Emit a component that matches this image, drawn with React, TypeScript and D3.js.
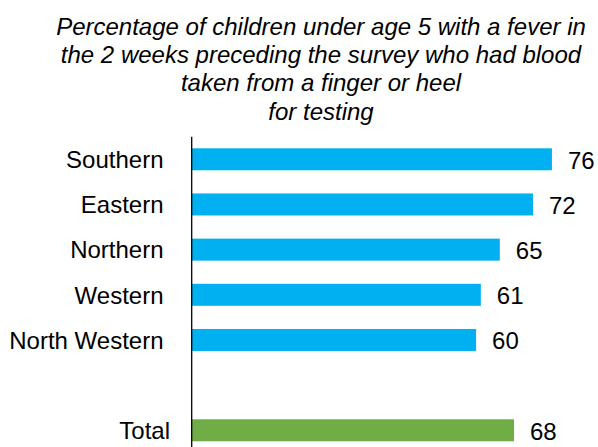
import React from "react";
import * as d3 from "d3";

const categories = ["Southern", "Eastern", "Northern", "Western", "North Western", "", "Total"];
const values = [76, 72, 65, 61, 60, null, 68];
const titleLines = [
  "Percentage of children under age 5 with a fever in",
  "the 2 weeks preceding the survey who had blood",
  "taken from a finger or heel",
  "for testing",
];

const W = 598;
const H = 447;
const FONT = "'Liberation Sans', Arial, Helvetica, sans-serif";

export default function App() {
  const x = d3.scaleLinear().domain([0, 100]).range([191.7, 191.7 + 474]);
  const y = d3
    .scaleBand<string>()
    .domain(categories.map((c, i) => String(i)))
    .range([136.7, 136.7 + 7 * 45.17])
    .paddingInner(0.513)
    .paddingOuter(0.2565);

  return (
    <svg
      width={W}
      height={H}
      style={{ position: "absolute", left: 0, top: 0, background: "#fff" }}
      fontFamily={FONT}
    >
      <rect width={W} height={H} fill="#fff" />
      {titleLines.map((t, i) => (
        <text
          key={i}
          x={321}
          y={35 + i * 28.2}
          textAnchor="middle"
          fontSize={24}
          fontStyle="italic"
          fill="#000"
        >
          {t}
        </text>
      ))}
      {categories.map((c, i) => {
        const v = values[i];
        if (v == null) return null;
        const key = String(i);
        const by = y(key)!;
        const bh = y.bandwidth();
        const cy = by + bh / 2;
        const isTotal = c === "Total";
        return (
          <g key={key}>
            <rect
              x={x(0)}
              y={by}
              width={x(v) - x(0)}
              height={bh}
              fill={isTotal ? "#70AD47" : "#00B0F0"}
            />
            <text
              x={isTotal ? 170 : 163.5}
              y={cy + 8.8}
              textAnchor="end"
              fontSize={24}
              fill="#000"
            >
              {c}
            </text>
            <text x={x(v) + 16} y={cy + 9.5} fontSize={24} fill="#000">
              {v}
            </text>
          </g>
        );
      })}
      <line x1={x(0)} x2={x(0)} y1={136.7} y2={H} stroke="#000" strokeWidth={1.3} />
    </svg>
  );
}
